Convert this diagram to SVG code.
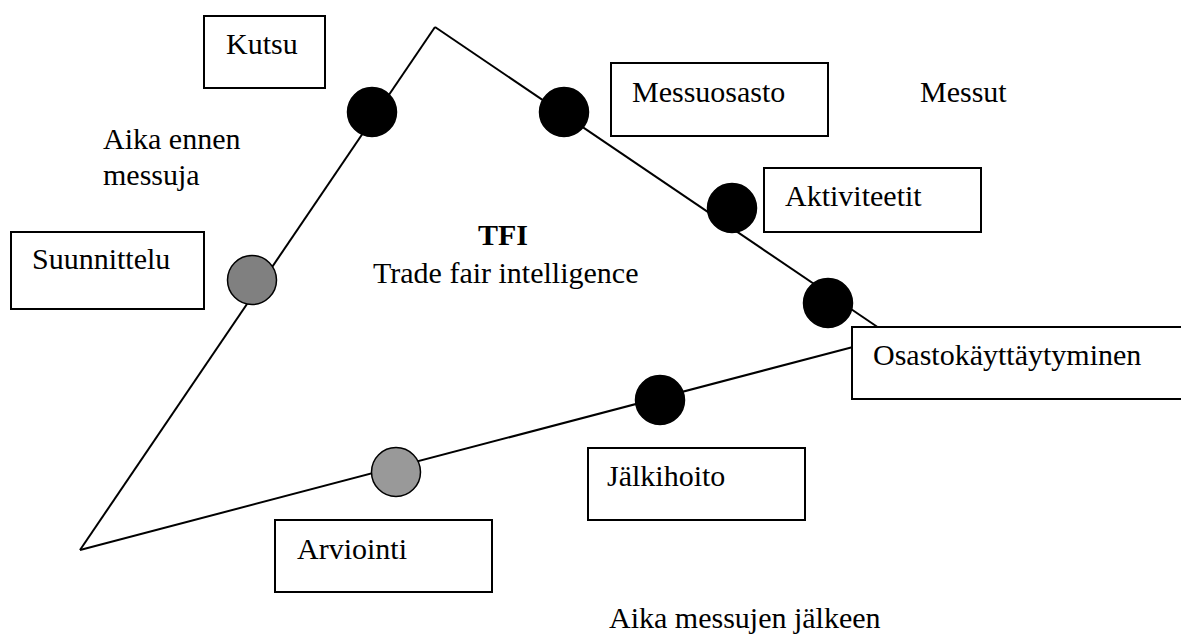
<svg xmlns="http://www.w3.org/2000/svg" width="1181" height="635" viewBox="0 0 1181 635">
<style>
.box{fill:#fff;stroke:#000;stroke-width:2}
.t{font-family:"Liberation Serif","Times New Roman",serif;font-size:30px;fill:#000}
.b{font-weight:bold;text-anchor:middle}
.line{fill:none;stroke:#000;stroke-width:2}
.dot{stroke:#000;stroke-width:1.5}
</style>
<rect width="1181" height="635" fill="#fff"/>
<g id="connectors">
<line class="line" x1="435" y1="27" x2="80" y2="550"/>
<line class="line" x1="435" y1="27" x2="879" y2="328"/>
<line class="line" x1="80" y1="550" x2="853" y2="347"/>
</g>
<g id="kutsu"><rect class="box" x="204" y="16" width="121" height="72"/><text class="t" x="226" y="54">Kutsu</text></g>
<g id="suunnittelu"><rect class="box" x="11" y="232" width="193" height="77"/><text class="t" x="32" y="269">Suunnittelu</text></g>
<g id="messuosasto"><rect class="box" x="611" y="63" width="217" height="73"/><text class="t" x="632" y="102">Messuosasto</text></g>
<g id="aktiviteetit"><rect class="box" x="764" y="168" width="217" height="64"/><text class="t" x="785" y="206">Aktiviteetit</text></g>
<g id="osastokayttaytyminen"><rect class="box" x="852" y="327" width="340" height="72"/><text class="t" x="873" y="365">Osastokäyttäytyminen</text></g>
<g id="jalkihoito"><rect class="box" x="588" y="448" width="217" height="72"/><text class="t" x="607" y="486">Jälkihoito</text></g>
<g id="arviointi"><rect class="box" x="275" y="520" width="217" height="72"/><text class="t" x="297" y="559">Arviointi</text></g>
<g id="labels">
<text class="t" x="103" y="149">Aika ennen</text>
<text class="t" x="103" y="185">messuja</text>
<text class="t" x="920" y="102">Messut</text>
<text class="t b" x="503" y="245">TFI</text>
<text class="t" x="373" y="283">Trade fair intelligence</text>
<text class="t" x="609" y="628">Aika messujen jälkeen</text>
</g>
<g id="dots">
<circle class="dot" cx="372" cy="112" r="24.5" fill="#000"/>
<circle class="dot" cx="564" cy="112" r="24.5" fill="#000"/>
<circle class="dot" cx="732" cy="208" r="24.5" fill="#000"/>
<circle class="dot" cx="828" cy="303" r="24.5" fill="#000"/>
<circle class="dot" cx="660" cy="400" r="24.5" fill="#000"/>
<circle class="dot" cx="252" cy="280" r="24.5" fill="#808080"/>
<circle class="dot" cx="396" cy="472" r="24.5" fill="#999999"/>
</g>
</svg>
